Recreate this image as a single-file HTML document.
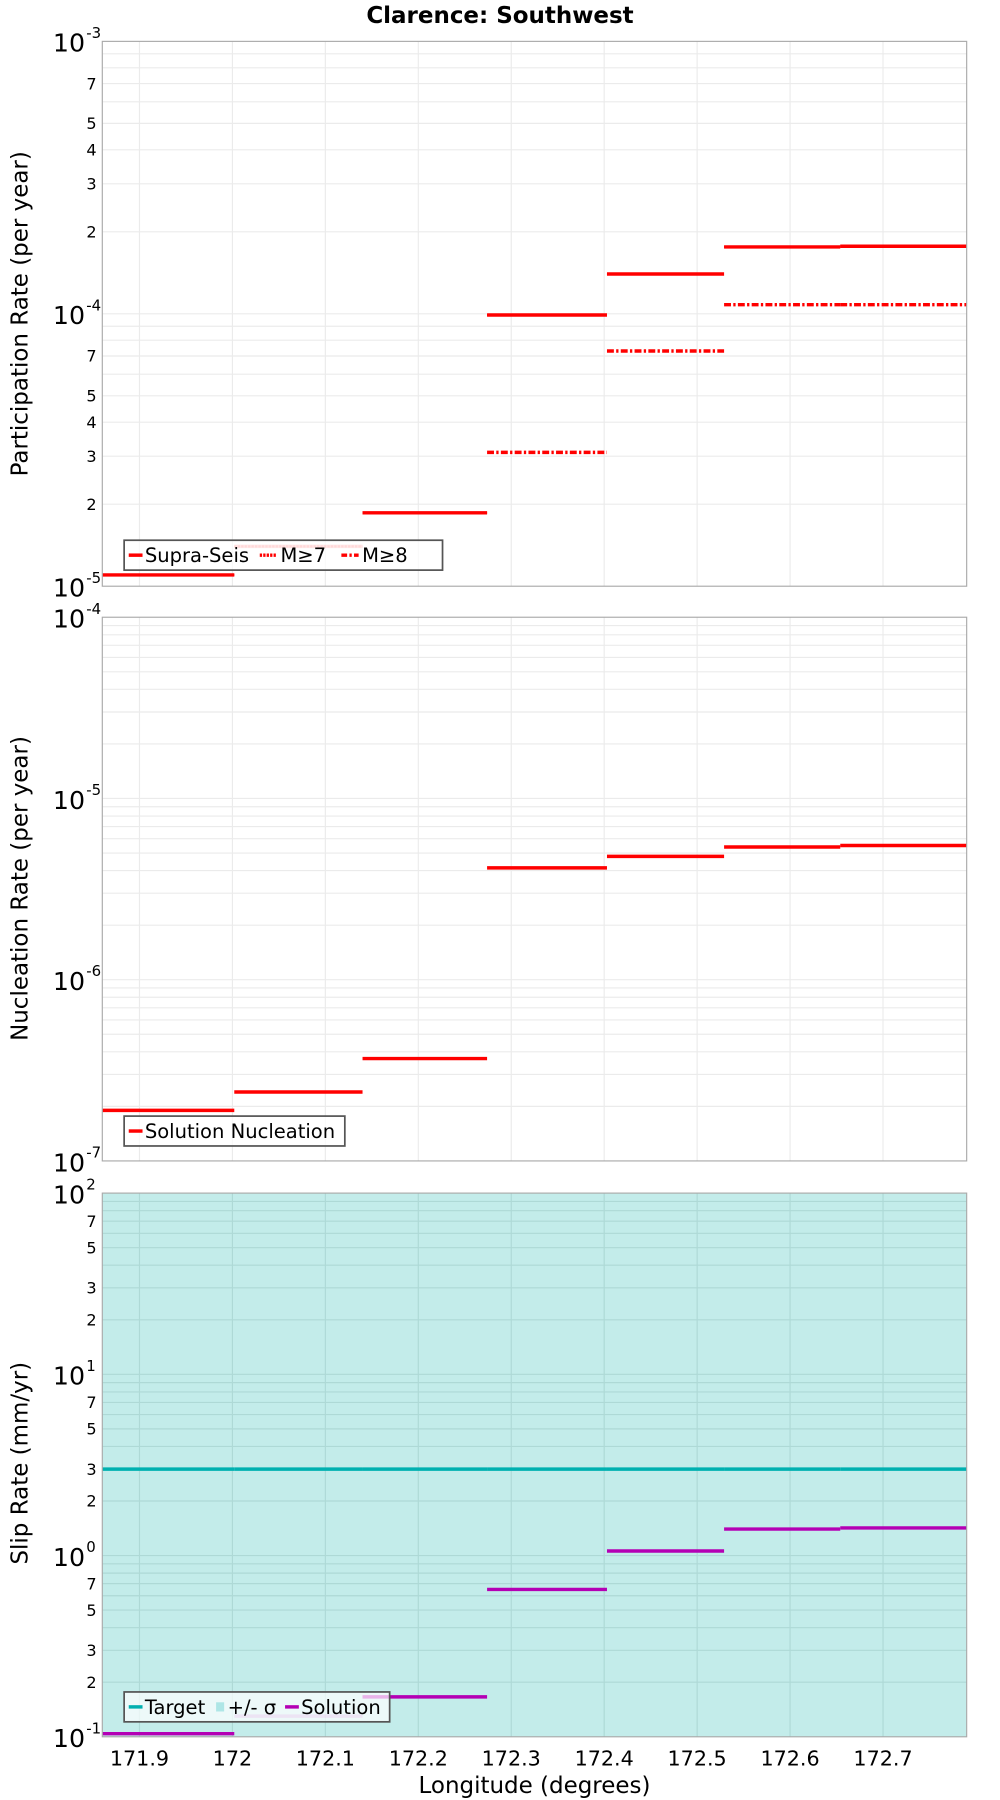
<!DOCTYPE html>
<html><head><meta charset="utf-8"><style>
html,body{margin:0;padding:0;background:#fff}
svg{display:block;font-family:"DejaVu Sans","Liberation Sans",sans-serif}
</style></head><body>
<svg id="chart" width="1000" height="1800" viewBox="0 0 870 1566" preserveAspectRatio="none" xmlns="http://www.w3.org/2000/svg">
<text x="435" y="20" text-anchor="middle" font-size="20" font-weight="bold">Clarence: Southwest</text>
<text x="465" y="1560" text-anchor="middle" font-size="20">Longitude (degrees)</text>
</svg>
<script>
const segEdges = [171.860, 172.002, 172.140, 172.274, 172.403, 172.529, 172.654, 172.790];
const xTicks = [171.9, 172, 172.1, 172.2, 172.3, 172.4, 172.5, 172.6, 172.7];
const supraSeis = [1.1e-5, 1.4e-5, 1.86e-5, 9.9e-5, 1.4e-4, 1.76e-4, 1.77e-4];
const m7 = [1.1e-5, 1.4e-5, 1.86e-5, 9.9e-5, 1.4e-4, 1.76e-4, 1.77e-4];
const m8 = [null, null, null, 3.1e-5, 7.3e-5, 1.08e-4, 1.08e-4];
const nucleation = [1.9e-7, 2.4e-7, 3.67e-7, 4.14e-6, 4.79e-6, 5.4e-6, 5.5e-6];
const targetSlip = [3.0, 3.0, 3.0, 3.0, 3.0, 3.0, 3.0];
const solutionSlip = [0.104, 0.13, 0.166, 0.65, 1.06, 1.4, 1.42];

const NS = "http://www.w3.org/2000/svg";
const svg = document.getElementById('chart');
const L = 89, R = 841;
const xMin = 171.860, xMax = 172.790;
function xs(v) { return L + (v - xMin) / (xMax - xMin) * (R - L); }
function mk(tag, attrs, parent) {
  const e = document.createElementNS(NS, tag);
  for (const k in attrs) e.setAttribute(k, attrs[k]);
  (parent || svg).appendChild(e);
  return e;
}
function panel(name, top, bot, eMin, eMax, minorLabels, bg, gridCol) {
  const g = mk('g', {});
  
  
  const ys = v => bot - (Math.log10(v) - eMin) / (eMax - eMin) * (bot - top);
  const r = mk('rect', { x: L, y: top, width: R - L, height: bot - top, fill: bg }, g);
  
  
  for (const t of xTicks) {
    const l = mk('line', { x1: xs(t), x2: xs(t), y1: top, y2: bot, stroke: gridCol, 'stroke-width': 1 }, g);
    
    
  }
  for (let e = eMin; e < eMax; e++) {
    for (let m = 1; m <= 9; m++) {
      const v = m * Math.pow(10, e);
      const y = ys(v);
      if (m > 1 || e > eMin) {
        const l = mk('line', { x1: L, x2: R, y1: y, y2: y, stroke: gridCol, 'stroke-width': 1 }, g);
        
        
      }
      if (m > 1 && minorLabels.includes(m)) {
        const t = mk('text', { x: 84, y: y + 5, 'text-anchor': 'end', 'font-size': 14 }, g);
        t.textContent = m;
        
        
      }
    }
  }
  for (let e = eMin; e <= eMax; e++) {
    const y = ys(Math.pow(10, e));
    const t = mk('text', { x: 74, y: y + 9, 'text-anchor': 'end', 'font-size': 22 }, g);
    t.textContent = '10';
    
    
    const s = mk('text', { x: 75, y: y - 3, 'text-anchor': 'start', 'font-size': 13 }, g);
    s.textContent = String(e);
    
    
  }
  const b = mk('rect', { x: L, y: top, width: R - L, height: bot - top, fill: 'none', stroke: '#aaa', 'stroke-width': 1 }, svg);
  
  
  return { g, ys };
}
function steps(p, arr, color, width, dash, name, paleIdx) {
  arr.forEach((v, i) => {
    if (v == null) return;
    const y = p.ys(v);
    const a = { x1: xs(segEdges[i]), x2: xs(segEdges[i + 1]), y1: y, y2: y, stroke: color, 'stroke-width': width };
    if (dash) a['stroke-dasharray'] = dash;
    if (paleIdx === i) a['stroke-opacity'] = 0.3;
    const l = mk('line', a, p.g);
    
    
  });
}
function ylabel(text, cy) {
  const t = mk('text', { x: 0, y: 0, transform: `translate(24,${cy}) rotate(-90)`, 'text-anchor': 'middle', 'font-size': 20 });
  t.textContent = text;
  
  
}
function legend(x, y, w, items, name) {
  const g = mk('g', {});
  
  
  mk('rect', { x, y, width: w, height: 26, fill: 'rgba(255,255,255,0.7)', stroke: '#555', 'stroke-width': 1.5 }, g);
  let cx = x + 4;
  for (const it of items) {
    const e = mk('g', {}, g);
    
    
    if (it.box) mk('rect', { x: cx + 2, y: y + 9, width: 7, height: 8, fill: it.color }, e);
    else {
      const a = { x1: cx, x2: cx + (it.dash ? 15 : 12), y1: y + 13, y2: y + 13, stroke: it.color, 'stroke-width': 3 };
      if (it.dash) a['stroke-dasharray'] = it.dash;
      mk('line', a, e);
    }
    cx += (it.dash ? 18 : it.box ? 12 : 14);
    const t = mk('text', { x: cx, y: y + 19, 'font-size': 17 }, e);
    t.textContent = it.label;
    cx += it.w;
  }
}

// Panel 1
const p1 = panel('participation-panel', 36, 510, -5, -3, [2, 3, 4, 5, 7], '#fff', '#ebebeb');
steps(p1, supraSeis, '#ff0000', 3, null, 'supra-seis', 1);
steps(p1, m7, '#ff0000', 2, '2,1', 'm7', 1);
steps(p1, m8, '#ff0000', 3, '6,2,2,2', 'm8');
ylabel('Participation Rate (per year)', 273);
legend(108, 470, 277, [{ color: '#f00', label: 'Supra-Seis', w: 100 }, { color: '#f00', dash: '2,1', label: 'M≥7', w: 53 }, { color: '#f00', dash: '5,2,2,2', label: 'M≥8', w: 40 }], 'participation-legend');

// Panel 2
const p2 = panel('nucleation-panel', 537, 1010, -7, -4, [], '#fff', '#ebebeb');
steps(p2, nucleation, '#ff0000', 3, null, 'solution-nucleation');
ylabel('Nucleation Rate (per year)', 773);
legend(108, 971, 192, [{ color: '#f00', label: 'Solution Nucleation', w: 170 }], 'nucleation-legend');

// Panel 3
const p3 = panel('slip-rate-panel', 1038, 1511, -1, 2, [2, 3, 5, 7], '#c3ecea', '#aed9d6');
steps(p3, targetSlip, '#00b0b0', 3, null, 'target');
steps(p3, solutionSlip, '#b400b4', 3, null, 'solution', 1);
ylabel('Slip Rate (mm/yr)', 1273);
legend(108, 1472, 231, [{ color: '#00b0b0', label: 'Target', w: 60 }, { color: '#aee6e6', box: true, label: '+/- σ', w: 50 }, { color: '#b400b4', label: 'Solution', w: 70 }], 'slip-legend');

// X tick labels
for (const t of xTicks) {
  const e = mk('text', { x: xs(t), y: 1536, 'text-anchor': 'middle', 'font-size': 18 });
  e.textContent = String(t);
  
  
}
</script>
</body></html>
